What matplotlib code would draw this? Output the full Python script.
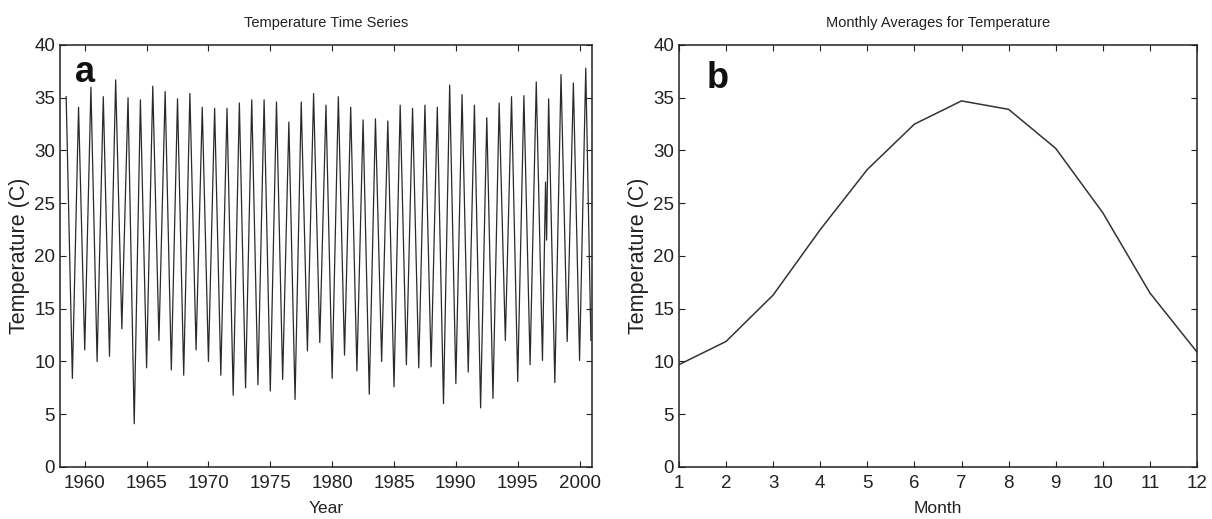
import numpy as np
import matplotlib
matplotlib.use("Agg")
import matplotlib.pyplot as plt

plt.rcParams['font.family'] = ['Liberation Sans', 'DejaVu Sans']

# yearly extremes (July peak, January low)
jul_years = list(range(1958, 2001))
jul_temps = [35.1, 34.1, 36.0, 35.1, 36.7, 35.0, 34.8, 36.1, 35.6, 34.9,
             35.4, 34.1, 34.0, 34.0, 34.5, 34.8, 34.8, 34.6, 32.7, 34.6,
             35.4, 34.3, 35.1, 34.1, 32.9, 33.0, 32.8, 34.3, 34.0, 34.3,
             34.1, 36.2, 35.3, 34.3, 33.1, 34.5, 35.1, 35.2, 36.5, 34.9,
             37.2, 36.4, 37.8]
jan_years = list(range(1959, 2001))
jan_temps = [8.4, 11.1, 10.0, 10.5, 13.1, 4.1, 9.4, 12.0, 9.2, 8.7,
             11.1, 10.0, 8.7, 6.8, 7.5, 7.8, 7.2, 8.3, 6.4, 11.0,
             11.8, 8.4, 10.6, 9.1, 6.9, 10.0, 7.6, 9.7, 9.4, 9.5,
             6.0, 7.9, 9.0, 5.6, 6.5, 12.0, 8.1, 9.7, 10.1, 8.0,
             11.9, 10.1]
# odd spring 1997 dip and the last month
extra_times = [1997 + 3 / 12, 1997 + 4 / 12, 2000 + 11 / 12]
extra_temps = [27.0, 21.5, 12.0]

months = list(range(1, 13))
monthly_avg = [9.7, 11.9, 16.3, 22.5, 28.2, 32.5, 34.7, 33.9, 30.2, 24.1, 16.5, 10.9]

t = np.array([y + 0.5 for y in jul_years] + [float(y) for y in jan_years] + extra_times)
v = np.array(jul_temps + jan_temps + extra_temps)
order = np.argsort(t)
t, v = t[order], v[order]

fig = plt.figure(figsize=(12.12, 5.19), dpi=100)
ax1 = fig.add_axes([0.0495, 0.1002, 0.4389, 0.8131])
ax2 = fig.add_axes([0.5602, 0.1002, 0.4274, 0.8131])

ink = '#222222'
ax1.plot(t, v, color='#2a2a2a', lw=0.9)
ax2.plot(months, monthly_avg, color='#333333', lw=1.1)

for ax in (ax1, ax2):
    ax.set_ylim(0, 40)
    ax.set_yticks(range(0, 41, 5))
    ax.tick_params(direction='in', top=True, right=True, length=4,
                   width=0.8, color=ink, labelsize=13.5, labelcolor=ink)
    ax.tick_params(axis='x', pad=6)
    for s in ax.spines.values():
        s.set_color(ink)
        s.set_linewidth(1.1)
    ax.set_ylabel('Temperature (C)', fontsize=15.5, color=ink, labelpad=3)

ax1.set_xlim(1958, 2001)
ax1.set_xticks(range(1960, 2001, 5))
ax1.set_xlabel('Year', fontsize=12.5, color=ink, labelpad=6)
ax1.set_title('Temperature Time Series', fontsize=10.5, color=ink, pad=13)
ax1.text(0.028, 0.936, 'a', transform=ax1.transAxes, fontsize=26,
         fontweight='bold', va='center', ha='left', color='#111111')

ax2.set_xlim(1, 12)
ax2.set_xticks(months)
ax2.set_xlabel('Month', fontsize=12.5, color=ink, labelpad=6)
ax2.set_title('Monthly Averages for Temperature', fontsize=10.5, color=ink, pad=13)
ax2.text(0.054, 0.92, 'b', transform=ax2.transAxes, fontsize=26,
         fontweight='bold', va='center', ha='left', color='#111111')

fig.savefig('out.png', dpi=100)
